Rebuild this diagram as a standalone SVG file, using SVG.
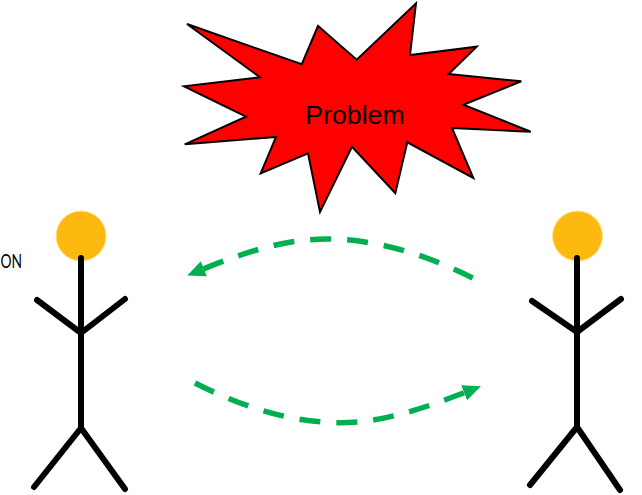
<svg xmlns="http://www.w3.org/2000/svg" width="642" height="495" viewBox="0 0 642 495">
<style>
.limb{fill:none;stroke:#000;stroke-width:6;stroke-linecap:round;stroke-linejoin:round}
.head{fill:#fdb90f;stroke:#fde68a;stroke-width:1}
.flow{fill:none;stroke:#00b050;stroke-width:5.500;stroke-dasharray:21 16}
.label{font-family:"Liberation Sans",Arial,sans-serif;fill:#000}
</style>
<defs>
<marker id="arrow" markerUnits="userSpaceOnUse" markerWidth="20" markerHeight="18" refX="2" refY="9" orient="auto">
<path d="M0 1 L18 9 L0 17 Z" fill="#00b050"/>
</marker>
</defs>
<rect width="642" height="495" fill="#fff"/>
<g id="problem">
<polygon points="187,24 301.700,64.300 318,26 356.700,59.700 416,3.300 410,55 476.700,46.700 448.700,74 521.300,81.300 463.300,104.700 530.700,131.700 452,128 473.300,178 407.300,142.300 395.300,193.300 352,146.700 320,212 308,153.300 260.700,173.300 276,137 184.700,144.300 246,116.700 184,86.300 260,77.300" fill="#ff0000" stroke="#000" stroke-width="2"/>
<text class="label" x="355" y="124" font-size="26.700" text-anchor="middle">Problem</text>
</g>
<g id="person-left">
<circle class="head" cx="81" cy="236" r="25"/>
<path class="limb" d="M81 258 V428 M37 300 L81 333 L125 299 M34 487 L81 428 L125 489"/>
<text x="0.500" y="268" font-size="20" textLength="21.500" lengthAdjust="spacingAndGlyphs" font-family="Lato,Carlito,sans-serif" fill="#000">ON</text>
</g>
<g id="person-right">
<circle class="head" cx="577.500" cy="236" r="25"/>
<path class="limb" d="M577 258 V427 M532 301 L577 332 L621 299 M530 485 L577 427 L620 490"/>
</g>
<g id="connectors">
<path class="flow" marker-end="url(#arrow)" d="M472.700 278 C 425 254, 375 239, 327 239 C 285 239, 245 252, 202 269.500"/>
<path class="flow" marker-end="url(#arrow)" d="M195 383 C 242 407, 292 422.700, 340 422.700 C 382 422.700, 422 409, 466 392"/>
</g>
</svg>
